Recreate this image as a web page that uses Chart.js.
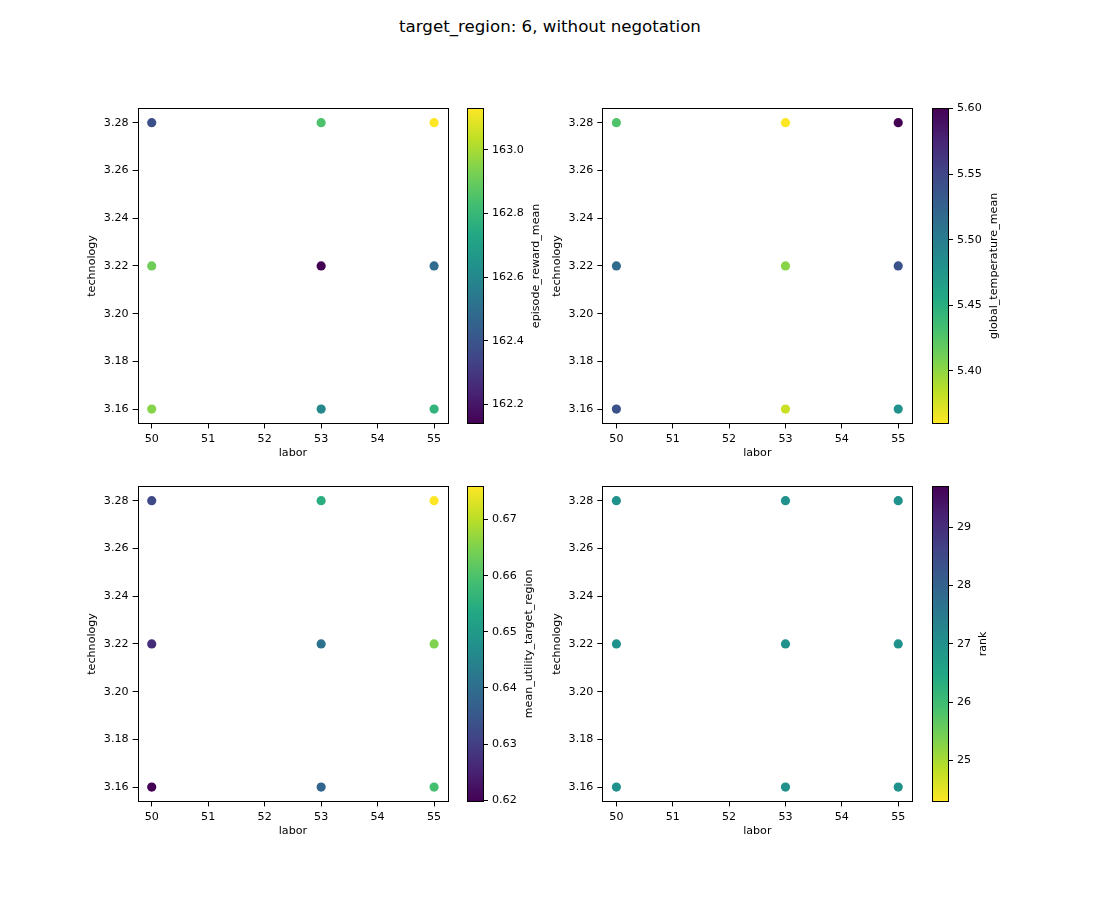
<!DOCTYPE html>
<html>
<head>
<meta charset="utf-8">
<title>target_region: 6, without negotation</title>
<script src="https://cdn.jsdelivr.net/npm/chart.js@4"></script>
<style>
    html, body { margin: 0; padding: 0; background: #fff; }
    #page { position: relative; width: 1100px; height: 900px; overflow: hidden; }
    #page canvas { position: absolute; }
    #title { position: absolute; left: 0; top: 17px; width: 1100px; text-align: center;
        font: 16.67px/20px "DejaVu Sans"; color: #000; }
</style>
</head>
<body>
<div id="page">
    <div id="title">target_region: 6, without negotation</div>
</div>
<script>
const labor = [50, 53, 55, 50, 53, 55, 50, 53, 55];
const technology = [3.28, 3.28, 3.28, 3.22, 3.22, 3.22, 3.16, 3.16, 3.16];

const episodeRewardMean = [162.38, 162.85, 163.13, 162.91, 162.14, 162.49, 162.95, 162.6, 162.78];
const globalTemperatureMean = [5.427, 5.36, 5.6, 5.516, 5.403, 5.54, 5.54, 5.379, 5.48];
const meanUtilityTargetRegion = [0.632, 0.655, 0.6759, 0.627, 0.641, 0.665, 0.6198, 0.638, 0.659];
const rank = [27, 27, 27, 27, 27, 27, 27, 27, 27];

const laborTicks = [50, 51, 52, 53, 54, 55];
const technologyTicks = [3.16, 3.18, 3.2, 3.22, 3.24, 3.26, 3.28];
const rewardTicks = [162.2, 162.4, 162.6, 162.8, 163.0];
const temperatureTicks = [5.4, 5.45, 5.5, 5.55, 5.6];
const utilityTicks = [0.62, 0.63, 0.64, 0.65, 0.66, 0.67];
const rankTicks = [25, 26, 27, 28, 29];

const viridis = ["#440154", "#482475", "#414487", "#355f8d", "#2a788e", "#21918c",
    "#22a884", "#44bf70", "#7ad151", "#bddf26", "#fde725"];

const panels = [
    { left: 137.6, width: 310.6, barLeft: 467, top: 108.4, name: "episode_reward_mean", values: episodeRewardMean,
        ticks: rewardTicks, decimals: 1, min: 162.14, max: 163.13, reversed: false },
    { left: 602.3, width: 310, barLeft: 932, top: 108.4, name: "global_temperature_mean", values: globalTemperatureMean,
        ticks: temperatureTicks, decimals: 2, min: 5.36, max: 5.6, reversed: true },
    { left: 137.6, width: 310.6, barLeft: 467, top: 486.4, name: "mean_utility_target_region", values: meanUtilityTargetRegion,
        ticks: utilityTicks, decimals: 2, min: 0.6198, max: 0.6759, reversed: false },
    { left: 602.3, width: 310, barLeft: 932, top: 486.4, name: "rank", values: rank,
        ticks: rankTicks, decimals: 0, min: 24.3, max: 29.7, reversed: true },
];

const AXES_H = 315, BAR_W = 16;
const FONT_SIZE = 11.11;

Chart.defaults.font.family = "'DejaVu Sans'";
Chart.defaults.font.size = FONT_SIZE;
Chart.defaults.color = "#000";
Chart.defaults.devicePixelRatio = 1;

function hexToRgb(hex) {
    return [1, 3, 5].map(i => parseInt(hex.slice(i, i + 2), 16));
}

function viridisColor(t) {
    t = Math.min(1, Math.max(0, t));
    const pos = t * (viridis.length - 1);
    const i = Math.min(viridis.length - 2, Math.floor(pos));
    const a = hexToRgb(viridis[i]), b = hexToRgb(viridis[i + 1]);
    const c = a.map((v, k) => Math.round(v + (b[k] - v) * (pos - i)));
    return `rgb(${c[0]},${c[1]},${c[2]})`;
}

function addCanvas(left, top, width, height) {
    const canvas = document.createElement("canvas");
    canvas.width = width;
    canvas.height = height;
    canvas.style.left = left + "px";
    canvas.style.top = top + "px";
    canvas.style.width = width + "px";
    canvas.style.height = height + "px";
    document.getElementById("page").appendChild(canvas);
    return canvas.getContext("2d");
}

// box round the plot area, same as the matplotlib spines
const framePlugin = {
    id: "frame",
    afterDatasetsDraw(chart) {
        const { ctx, chartArea: a } = chart;
        const l = Math.round(a.left) + 0.5, t = Math.round(a.top) + 0.5;
        const r = Math.round(a.right) + 0.5, b = Math.round(a.bottom) + 0.5;
        ctx.save();
        ctx.strokeStyle = "#000";
        ctx.lineWidth = 1;
        ctx.strokeRect(l, t, r - l, b - t);
        ctx.restore();
    },
};

// chart.js turns a right hand axis title the wrong way, so the colorbar label goes here
const barLabelPlugin = {
    id: "barLabel",
    afterDraw(chart, args, opts) {
        const { ctx, chartArea: a } = chart;
        ctx.save();
        ctx.font = `${FONT_SIZE}px 'DejaVu Sans'`;
        const widest = Math.max(...opts.tickLabels.map(s => ctx.measureText(s).width));
        ctx.translate(a.right + 10 + widest + 11, (a.top + a.bottom) / 2);
        ctx.rotate(-Math.PI / 2);
        ctx.textAlign = "center";
        ctx.textBaseline = "middle";
        ctx.fillStyle = "#000";
        ctx.fillText(opts.text, 0, 0);
        ctx.restore();
    },
};

function tickOptions() {
    return {
        border: { display: false },
        grid: { display: true, drawOnChartArea: false, drawTicks: true, tickLength: 5, tickColor: "#000", tickWidth: 1 },
    };
}

function drawScatter(panel) {
    const marginR = 10, marginB = 40;
    const canvasLeft = Math.floor(panel.left - 60);
    const canvasTop = Math.floor(panel.top - 12);
    const marginL = panel.left - canvasLeft;
    const marginT = panel.top - canvasTop;
    const ctx = addCanvas(canvasLeft, canvasTop,
        Math.ceil(marginL + panel.width + marginR), Math.round(marginT + AXES_H + marginB));
    const span = panel.max - panel.min;
    new Chart(ctx, {
        type: "scatter",
        data: {
            datasets: [{
                data: labor.map((x, i) => ({ x: x, y: technology[i], v: panel.values[i] })),
                backgroundColor: c => {
                    const t = (c.raw.v - panel.min) / span;
                    return viridisColor(panel.reversed ? 1 - t : t);
                },
                pointRadius: 4.6,
                pointBorderWidth: 0,
            }],
        },
        options: {
            responsive: false,
            animation: false,
            layout: { padding: { top: marginT, right: ctx.canvas.width - marginL - panel.width } },
            plugins: { legend: { display: false }, tooltip: { enabled: false } },
            scales: {
                x: {
                    ...tickOptions(),
                    type: "linear",
                    min: 49.75,
                    max: 55.25,
                    afterBuildTicks: s => { s.ticks = laborTicks.map(v => ({ value: v })); },
                    afterFit: s => { s.height = ctx.canvas.height - marginT - AXES_H; },
                    ticks: { padding: 4, maxRotation: 0, callback: v => String(v) },
                    title: { display: true, text: "labor", padding: { top: 0, bottom: 3 } },
                },
                y: {
                    ...tickOptions(),
                    type: "linear",
                    min: 3.154,
                    max: 3.286,
                    afterBuildTicks: s => { s.ticks = technologyTicks.map(v => ({ value: v })); },
                    afterFit: s => { s.width = marginL; },
                    ticks: { padding: 4, callback: v => v.toFixed(2) },
                    title: { display: true, text: "technology", padding: { top: 8, bottom: 0 } },
                },
            },
        },
        plugins: [framePlugin],
    });
}

function drawColorbar(panel) {
    const marginR = 70;
    const canvasTop = Math.floor(panel.top - 12);
    const marginT = panel.top - canvasTop;
    const ctx = addCanvas(panel.barLeft, canvasTop, BAR_W + marginR, Math.ceil(marginT + AXES_H + 12));
    const tickLabels = panel.ticks.map(v => v.toFixed(panel.decimals));
    new Chart(ctx, {
        type: "bar",
        data: {
            labels: [panel.name],
            datasets: [{
                data: [[panel.min, panel.max]],
                barPercentage: 1,
                categoryPercentage: 1,
                backgroundColor: c => {
                    const a = c.chart.chartArea;
                    if (!a) return viridis[5];
                    const g = c.chart.ctx.createLinearGradient(0, a.bottom, 0, a.top);
                    viridis.forEach((col, i) => {
                        const t = i / (viridis.length - 1);
                        g.addColorStop(panel.reversed ? 1 - t : t, col);
                    });
                    return g;
                },
            }],
        },
        options: {
            responsive: false,
            animation: false,
            layout: { padding: { top: marginT, bottom: ctx.canvas.height - marginT - AXES_H } },
            plugins: {
                legend: { display: false },
                tooltip: { enabled: false },
                barLabel: { text: panel.name, tickLabels: tickLabels },
            },
            scales: {
                x: { display: false },
                y: {
                    ...tickOptions(),
                    position: "right",
                    min: panel.min,
                    max: panel.max,
                    afterBuildTicks: s => { s.ticks = panel.ticks.map(v => ({ value: v })); },
                    afterFit: s => { s.width = marginR; },
                    ticks: { padding: 4, callback: v => v.toFixed(panel.decimals) },
                },
            },
        },
        plugins: [framePlugin, barLabelPlugin],
    });
}

panels.forEach(panel => {
    drawScatter(panel);
    drawColorbar(panel);
});
</script>
</body>
</html>
